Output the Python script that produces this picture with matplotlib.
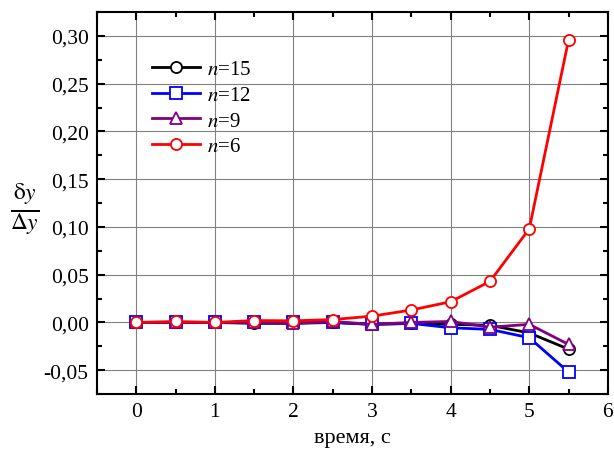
import matplotlib
matplotlib.use("Agg")
import matplotlib.pyplot as plt
from matplotlib.ticker import MultipleLocator, FuncFormatter

plt.rcParams['font.family'] = ['Liberation Serif', 'DejaVu Serif']
plt.rcParams['mathtext.fontset'] = 'stix'

t = [0, 0.5, 1, 1.5, 2, 2.5, 3, 3.5, 4, 4.5, 5, 5.5]
n15 = [0, 0, 0, -0.001, -0.001, 0, -0.002, -0.001, -0.002, -0.003, -0.011, -0.028]
n12 = [0, 0, 0, 0, 0, 0, -0.002, -0.001, -0.0056, -0.0073, -0.016, -0.052]
n9 = [0, 0, 0, 0, -0.001, 0.001, -0.002, 0, 0.001, -0.005, -0.002, -0.023]
n6 = [0, 0.001, 0, 0.002, 0.0017, 0.003, 0.0066, 0.013, 0.0217, 0.043, 0.098, 0.296]

fig = plt.figure(figsize=(6.14, 4.52), dpi=100)
ax = fig.add_axes([0.158, 0.126, 0.832, 0.845])

kw = dict(lw=2, ms=8, mfc='white', mew=1.3)
ax.plot(t, n15, color='black', marker='o', label='$n$=15', **kw)
ax.plot(t, n12, color='#0000ff', marker='s', label='$n$=12', **kw)
ax.plot(t, n9, color='#800080', marker='^', label='$n$=9', **kw)
ax.plot(t, n6, color='#ff0000', marker='o', label='$n$=6', **kw)

ax.set_xlim(-0.5, 6)
ax.set_ylim(-0.075, 0.325)
ax.xaxis.set_major_locator(MultipleLocator(1))
ax.xaxis.set_minor_locator(MultipleLocator(0.5))
ax.yaxis.set_major_locator(MultipleLocator(0.05))
ax.yaxis.set_minor_locator(MultipleLocator(0.025))
ax.yaxis.set_major_formatter(FuncFormatter(lambda v, p: f"{v:.2f}".replace('.', ',').replace('-0,00', '0,00')))
ax.tick_params(which='both', direction='in', top=True, right=True, labelsize=15.5, width=1.5)
ax.tick_params(which='major', length=6, pad=6)
ax.tick_params(which='minor', length=3.5)
for s in ax.spines.values():
    s.set_linewidth(1.5)
ax.grid(True, which='major', color='#808080', lw=0.8)
ax.set_axisbelow(True)

ax.set_xlabel('время, с', fontsize=16, labelpad=5)
fig.text(0.04, 0.535, r'$\frac{\mathrm{\delta}y}{\mathrm{\Delta}y}$', fontsize=24, ha='center', va='center')

leg = ax.legend(loc='upper left', bbox_to_anchor=(0.092, 0.898), frameon=False,
                fontsize=15, handlelength=2.3, labelspacing=0.3, handletextpad=0.3,
                borderaxespad=0)

fig.savefig('out.png', dpi=100)
